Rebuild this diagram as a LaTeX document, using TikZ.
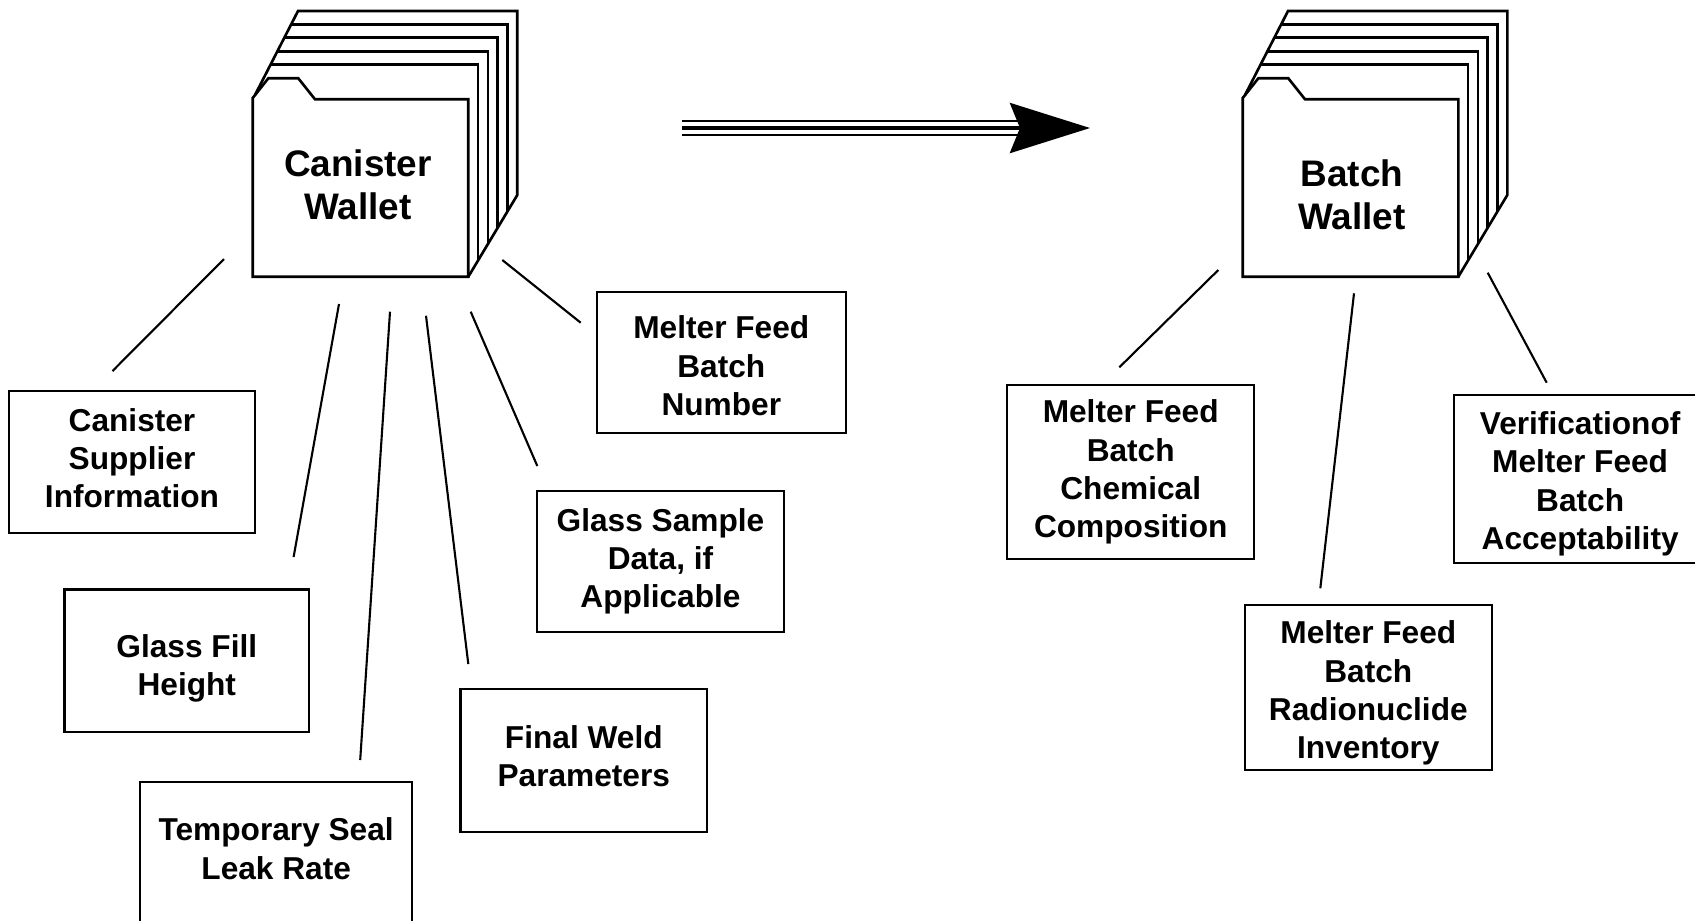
\documentclass[tikz,border=0pt]{standalone}
\usepackage{fontspec}
\setmainfont{Liberation Sans}
\usetikzlibrary{arrows.meta}

\begin{document}
\begin{tikzpicture}[x=0.01cm, y=-0.01cm,
  box/.style={draw, line width=0.6pt, align=center, inner sep=0pt,
    font=\bfseries\fontsize{9}{10.9}\selectfont},
  wallet/.style={align=center, inner sep=0pt,
    font=\bfseries\fontsize{10.5}{12.2}\selectfont},
  folder/.style={line width=0.75pt, line join=miter},
  lead/.style={line width=0.6pt}]
\useasboundingbox (0,0) rectangle (1695,920);
\clip (0,0) rectangle (1695,920);

% the two wallets: a folder with a stack of pages behind it
\foreach \sx/\tx/\ty/\nm/\txt in {0/358/185/cw/{Canister\\Wallet}, 990/362/195/bw/{Batch\\Wallet}} {
  \begin{scope}[shift={(\sx,0)}]
  \draw[folder] (255,95) -- (298,11) -- (517.3,11) -- (517.3,195) -- (468.3,276.7);
  \foreach \i in {1,...,4}
    \draw[folder] ({255+(17+13.4*\i)*0.512},{78-13.4*\i}) -- ({468.3+9.8*\i},{78-13.4*\i})
      -- ({468.3+9.8*\i},{276.7-16.33*\i});
  \draw[folder] (252.7,276.7) -- (252.7,98) -- (268.3,78.3) -- (298.3,78.3) -- (315,99.3)
    -- (468.3,99.3) -- (468.3,276.7) -- cycle;
  \node[wallet] (\nm) at (\tx,\ty) {\txt};
  \end{scope}
}

% arrow between the wallets
\coordinate (arrL) at (682,128);
\coordinate (arrR) at (1090,128);
\draw[line width=1.1pt, -{Stealth[length=0.8cm, width=0.5cm, inset=0.1cm]}] (arrL) -- (arrR);
\draw[line width=0.6pt] ([yshift=0.07cm]arrL) -- ([xshift=-0.72cm, yshift=0.07cm]arrR);
\draw[line width=0.6pt] ([yshift=-0.07cm]arrL) -- ([xshift=-0.72cm, yshift=-0.07cm]arrR);

% canister wallet contents
\node[box, minimum width=2.45cm, minimum height=1.415cm] (supplier) at (132,462.2) {Canister\\Supplier\\Information\rule[-2.4pt]{0pt}{0pt}};
\node[box, minimum width=2.445cm, minimum height=1.42cm] (fillh) at (186.8,660.5) {\rule{0pt}{10.9pt}Glass Fill\\Height};
\node[box, anchor=north, minimum width=2.723cm, inner ysep=0.36cm, text depth=1.6cm] (seal) at (276.2,780.7) {Temporary Seal\\Leak Rate};
\node[box, minimum width=2.465cm, minimum height=1.424cm] (weld) at (583.8,760.5) {Final Weld\\Parameters\rule[-2.4pt]{0pt}{0pt}};
\node[box, minimum width=2.476cm, minimum height=1.41cm] (sample) at (660.5,561.2) {Glass Sample\\Data, if\\Applicable};
\node[box, minimum width=2.493cm, minimum height=1.404cm] (batchno) at (721.3,362.5) {\rule{0pt}{8.4pt}Melter Feed\\Batch\\Number};

% batch wallet contents
\node[box, minimum width=2.467cm, minimum height=1.74cm] (chem) at (1130.7,472) {Melter Feed\\Batch\\Chemical\\Composition};
\node[box, minimum width=2.467cm, minimum height=1.65cm] (radio) at (1368.3,687.5) {\rule{0pt}{9.7pt}Melter Feed\\Batch\\Radionuclide\\Inventory};
\node[box, anchor=west, minimum width=2.514cm, minimum height=1.683cm] (verif) at (1453.3,479.2) {\rule{0pt}{9.1pt}Verificationof\\Melter Feed\\Batch\\Acceptability};

% leader lines
\foreach \n/\ax/\ay/\bx/\by in {supplier/224/259/112.5/371, fillh/339/304/293.6/557,
    seal/390/311.7/360.2/760, weld/426/315.7/468.3/664, sample/470.7/311.7/537.3/466,
    batchno/502.3/260/580.7/322.7, chem/1218.3/270/1119.3/367.3,
    radio/1354/293.3/1320.3/588.3, verif/1487.7/272.7/1546.7/382.7} {
  \coordinate (\n-a) at (\ax,\ay);
  \coordinate (\n-b) at (\bx,\by);
  \draw[lead] (\n-a) -- (\n-b);
}
\end{tikzpicture}
\end{document}
